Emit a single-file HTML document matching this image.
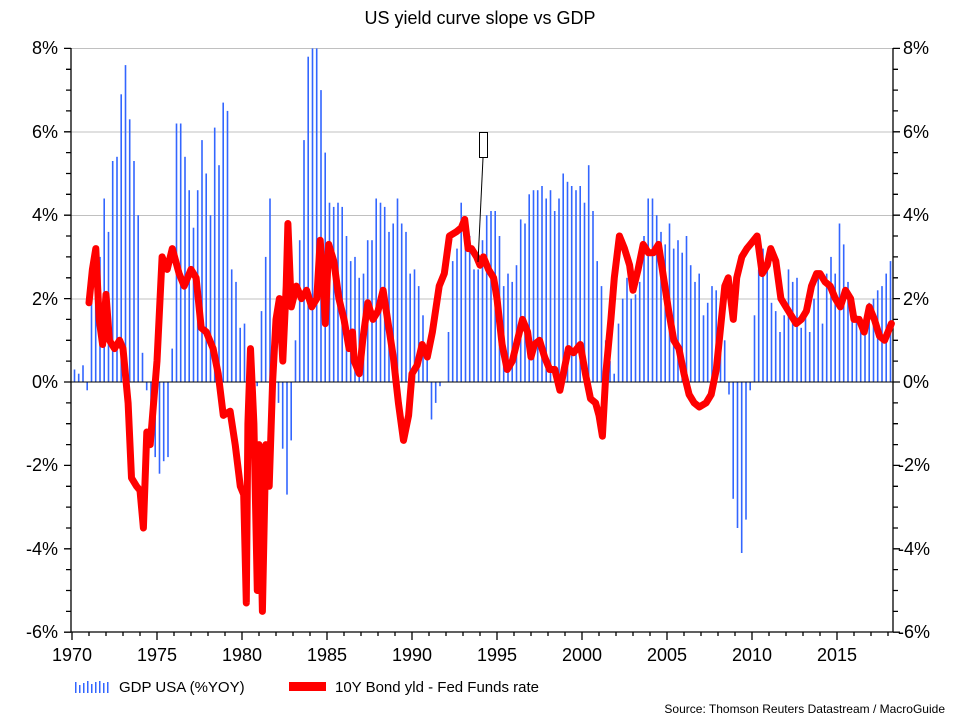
<!DOCTYPE html>
<html><head><meta charset="utf-8"><style>
body{margin:0;background:#fff}
svg{display:block}
text{font-family:"Liberation Sans",Arial,sans-serif;fill:#000}
</style></head><body>
<svg id="s" width="960" height="720" viewBox="0 0 960 720">
<text x="480" y="24" font-size="18" text-anchor="middle">US yield curve slope vs GDP</text>
<g stroke="#c0c0c0" stroke-width="1">
<line x1="71" x2="893" y1="48.5" y2="48.5"/><line x1="71" x2="893" y1="132" y2="132"/>
<line x1="71" x2="893" y1="215.5" y2="215.5"/><line x1="71" x2="893" y1="299" y2="299"/>
</g>
<g id="bars" fill="#3366ff"></g>
<line x1="71" x2="893" y1="382" y2="382" stroke="#000" stroke-width="1"/>
<g id="ax" stroke="#000" stroke-width="1.3"></g>
<path id="red" fill="none" stroke="#ff0000" stroke-width="7" stroke-linejoin="round" stroke-linecap="round"/>
<rect x="479.5" y="132.5" width="8" height="25" fill="#fff" stroke="#000"/>
<line x1="483" y1="158" x2="478" y2="262" stroke="#000" stroke-width="1"/>
<g font-size="18" text-anchor="end">
<text x="58" y="54">8%</text><text x="58" y="138">6%</text><text x="58" y="221">4%</text><text x="58" y="305">2%</text><text x="58" y="388">0%</text><text x="58" y="471">-2%</text><text x="58" y="555">-4%</text><text x="58" y="638">-6%</text>
</g>
<g font-size="18" text-anchor="start">
<text x="903" y="54">8%</text><text x="903" y="138">6%</text><text x="903" y="221">4%</text><text x="903" y="305">2%</text><text x="903" y="388">0%</text><text x="898" y="471">-2%</text><text x="898" y="555">-4%</text><text x="898" y="638">-6%</text>
</g>
<g font-size="18" text-anchor="middle">
<text x="72" y="661">1970</text><text x="157" y="661">1975</text><text x="242" y="661">1980</text><text x="327" y="661">1985</text><text x="412" y="661">1990</text><text x="497" y="661">1995</text><text x="582" y="661">2000</text><text x="667" y="661">2005</text><text x="752" y="661">2010</text><text x="837" y="661">2015</text>
</g>
<g fill="#3366ff"><rect x="75" y="682" width="1.5" height="11"/><rect x="79" y="685" width="1.5" height="8"/><rect x="83" y="683" width="1.5" height="10"/><rect x="87" y="681" width="1.5" height="12"/><rect x="91" y="684" width="1.5" height="9"/><rect x="95" y="682" width="1.5" height="11"/><rect x="99" y="681" width="1.5" height="12"/><rect x="103" y="683" width="1.5" height="10"/><rect x="107" y="682" width="1.5" height="11"/></g>
<text x="119" y="692" font-size="15">GDP USA (%YOY)</text>
<rect x="289" y="682" width="37" height="9" fill="#ff0000"/>
<text x="335" y="692" font-size="15">10Y Bond yld - Fed  Funds rate</text>
<text x="945" y="713" font-size="12" text-anchor="end">Source: Thomson Reuters Datastream / MacroGuide</text>
</svg>
<script>
var NS="http://www.w3.org/2000/svg";
function X(t){return 72+(t-1970)*17.0;}
function Y(v){return 382-v*41.7;}
var g=[0.3,0.2,0.4,-0.2, 2.0,2.2,3.0,4.4, 3.6,5.3,5.4,6.9, 7.6,6.3,5.3,4.0, 0.7,-0.2,-0.6,-1.8, -2.2,-1.9,-1.8,0.8, 6.2,6.2,5.4,4.6, 3.7,4.6,5.8,5.0, 4.0,6.1,5.2,6.7, 6.5,2.7,2.4,1.3, 1.4,-0.8,-1.3,-0.1, 1.7,3.0,4.4,1.2, -0.5,-1.6,-2.7,-1.4, 1.0,3.4,5.8,7.8, 8.0,8.0,7.0,5.5, 4.3,4.2,4.3,4.2, 3.5,2.9,3.0,2.5, 2.6,3.4,3.4,4.4, 4.3,4.2,3.6,3.8, 4.4,3.8,3.6,2.6, 2.7,2.3,1.6,0.6, -0.9,-0.5,-0.1,0.0, 1.2,2.9,3.2,4.3, 3.5,3.5,2.7,2.7, 3.4,4.0,4.1,4.1, 3.5,2.3,2.6,2.4, 2.8,3.9,3.8,4.5, 4.6,4.6,4.7,4.4, 4.6,4.1,4.4,5.0, 4.8,4.7,4.6,4.7, 4.3,5.2,4.1,2.9, 2.3,1.0,0.5,0.2, 1.4,2.0,2.5,2.0, 2.1,2.4,3.5,4.4, 4.4,4.0,3.6,3.3, 3.8,3.2,3.4,3.1, 3.5,2.8,2.4,2.6, 1.6,1.9,2.3,2.2, 1.6,1.0,-0.3,-2.8, -3.5,-4.1,-3.3,-0.2, 1.6,2.7,3.2,2.7, 1.9,1.7,1.2,1.6, 2.7,2.4,2.5,1.3, 1.6,1.2,2.0,2.6, 1.4,2.6,3.0,2.6, 3.8,3.3,2.4,1.9, 1.6,1.3,1.5,1.9, 2.0,2.2,2.3,2.6, 2.9];
var b=document.getElementById("bars");
g.forEach(function(v,i){var x=X(1970+i*0.25+0.1);var y0=Y(Math.max(v,0)),y1=Y(Math.min(v,0));var r=document.createElementNS(NS,"rect");r.setAttribute("x",x.toFixed(1));r.setAttribute("width","1.6");r.setAttribute("y",y0.toFixed(1));r.setAttribute("height",Math.max(y1-y0,0.5).toFixed(1));b.appendChild(r);});
var d=[1971.0,1.9,1971.2,2.7,1971.4,3.2,1971.6,1.5,1971.8,0.9,1972.0,2.1,1972.2,1.0,1972.5,0.8,1972.8,1.0,1973.0,0.8,1973.3,-0.5,1973.5,-2.3,1973.8,-2.5,1974.0,-2.6,1974.2,-3.5,1974.4,-1.2,1974.6,-1.5,1975.0,0.5,1975.3,3.0,1975.6,2.7,1975.9,3.2,1976.3,2.6,1976.6,2.3,1977.0,2.7,1977.3,2.5,1977.6,1.3,1977.9,1.2,1978.3,0.8,1978.6,0.2,1978.9,-0.8,1979.3,-0.7,1979.6,-1.5,1979.9,-2.5,1980.1,-2.7,1980.25,-5.3,1980.35,-1.0,1980.5,0.8,1980.7,-1.0,1980.9,-5.0,1981.0,-1.5,1981.2,-5.5,1981.4,-1.5,1981.6,-2.5,1981.8,0.0,1982.0,1.5,1982.2,2.0,1982.4,0.5,1982.6,2.3,1982.7,3.8,1982.9,1.8,1983.2,2.3,1983.5,2.0,1983.8,2.2,1984.1,1.8,1984.4,2.0,1984.6,3.4,1984.8,2.2,1984.9,1.4,1985.1,3.3,1985.4,2.9,1985.7,2.0,1986.0,1.5,1986.3,0.8,1986.5,1.2,1986.6,0.5,1986.9,0.2,1987.1,1.0,1987.4,1.9,1987.7,1.5,1988.0,1.7,1988.3,2.2,1988.6,1.4,1988.9,0.6,1989.2,-0.5,1989.5,-1.4,1989.8,-0.8,1990.0,0.2,1990.3,0.4,1990.6,0.9,1990.9,0.6,1991.2,1.2,1991.6,2.3,1991.9,2.6,1992.2,3.5,1992.6,3.6,1992.9,3.7,1993.1,3.9,1993.3,3.2,1993.5,3.2,1993.8,3.0,1994.0,2.8,1994.2,3.0,1994.5,2.7,1994.8,2.5,1995.0,2.0,1995.3,0.9,1995.6,0.3,1995.9,0.5,1996.2,1.0,1996.5,1.5,1996.8,1.2,1997.0,0.6,1997.2,0.9,1997.5,1.0,1997.8,0.6,1998.1,0.3,1998.4,0.3,1998.7,-0.2,1998.9,0.2,1999.2,0.8,1999.5,0.7,1999.9,0.9,2000.2,0.2,2000.5,-0.4,2000.8,-0.5,2001.0,-0.8,2001.2,-1.3,2001.4,0.2,2001.7,1.5,2001.9,2.5,2002.2,3.5,2002.5,3.2,2002.8,2.8,2003.0,2.2,2003.3,2.7,2003.6,3.3,2003.9,3.1,2004.2,3.1,2004.5,3.3,2004.8,2.5,2005.1,1.7,2005.4,1.0,2005.7,0.8,2006.0,0.2,2006.3,-0.3,2006.6,-0.5,2006.9,-0.6,2007.3,-0.5,2007.6,-0.3,2007.9,0.3,2008.2,1.5,2008.4,2.3,2008.6,2.5,2008.9,1.5,2009.1,2.5,2009.4,3.0,2009.7,3.2,2009.9,3.3,2010.3,3.5,2010.6,2.6,2010.9,2.8,2011.1,3.2,2011.4,2.9,2011.7,2.0,2012.0,1.8,2012.3,1.6,2012.6,1.4,2012.9,1.5,2013.2,1.7,2013.5,2.3,2013.8,2.6,2014.0,2.6,2014.3,2.4,2014.6,2.3,2014.9,2.0,2015.2,1.8,2015.5,2.2,2015.8,2.0,2016.0,1.5,2016.3,1.5,2016.6,1.2,2016.9,1.8,2017.2,1.5,2017.5,1.1,2017.8,1.0,2018.0,1.2,2018.2,1.4];
var p="";for(var i=0;i<d.length;i+=2){p+=(i?"L":"M")+X(d[i]).toFixed(1)+","+Y(d[i+1]).toFixed(1);}
document.getElementById("red").setAttribute("d",p);
var a=document.getElementById("ax"),s="M71,48V632M893,48V632M71,632H893";
for(var v=-6;v<=8;v+=0.5){var y=Y(v).toFixed(1);var L=(v%2==0)?7:5;s+="M"+(71-L)+","+y+"H71M893,"+y+"H"+(893+L);}
for(var t=1970;t<=2018;t++){var x=X(t).toFixed(1);s+="M"+x+",632V"+(t%5==0?640:636);}
a.innerHTML='<path d="'+s+'" fill="none"/>';
</script>
</body></html>
